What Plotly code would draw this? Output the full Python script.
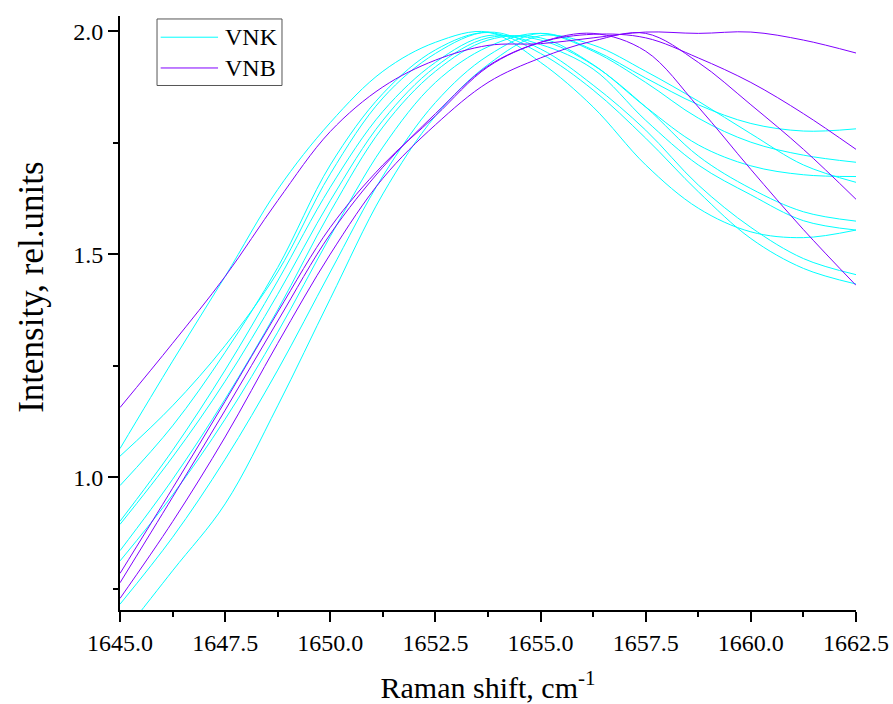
import plotly.graph_objects as go

# Raman shift grid (cm-1) shared by all spectra
shift = [1645.0, 1646.25, 1647.5, 1648.75, 1650.0, 1651.25, 1652.5, 1653.75,
         1655.0, 1656.25, 1657.5, 1658.75, 1660.0, 1661.25, 1662.5]

# VNK spectra (normalised intensity)
vnk_1 = [1.064, 1.26, 1.45, 1.645, 1.795, 1.91, 1.975, 1.998, 1.93, 1.83, 1.70, 1.603, 1.550, 1.537, 1.554]
vnk_2 = [1.047, 1.16, 1.295, 1.46, 1.68, 1.85, 1.95, 1.998, 1.96, 1.879, 1.778, 1.655, 1.560, 1.490, 1.454]
vnk_3 = [0.981, 1.115, 1.28, 1.47, 1.70, 1.86, 1.958, 1.997, 1.95, 1.868, 1.760, 1.640, 1.535, 1.468, 1.433]
vnk_4 = [0.901, 1.06, 1.24, 1.44, 1.65, 1.82, 1.93, 1.99, 1.97, 1.915, 1.80, 1.70, 1.633, 1.575, 1.554]
vnk_5 = [0.894, 1.045, 1.215, 1.41, 1.62, 1.80, 1.92, 1.985, 1.98, 1.924, 1.83, 1.72, 1.647, 1.595, 1.574]
vnk_6 = [0.835, 0.995, 1.175, 1.375, 1.595, 1.785, 1.91, 1.98, 1.985, 1.925, 1.83, 1.745, 1.698, 1.678, 1.674]
vnk_7 = [0.812, 0.96, 1.13, 1.325, 1.54, 1.74, 1.885, 1.965, 1.995, 1.955, 1.885, 1.805, 1.751, 1.722, 1.706]
vnk_8 = [0.715, 0.865, 1.04, 1.24, 1.46, 1.675, 1.84, 1.945, 1.995, 1.958, 1.895, 1.835, 1.793, 1.776, 1.781]
vnk_9 = [0.64, 0.79, 0.94, 1.16, 1.40, 1.635, 1.81, 1.925, 1.99, 1.969, 1.91, 1.843, 1.770, 1.700, 1.661]

# VNB spectra (normalised intensity)
vnb_1 = [1.156, 1.30, 1.45, 1.62, 1.775, 1.875, 1.935, 1.968, 1.972, 1.985, 1.998, 1.995, 1.998, 1.98, 1.951]
vnb_2 = [0.784, 0.975, 1.17, 1.37, 1.56, 1.70, 1.81, 1.92, 1.975, 1.995, 1.955, 1.83, 1.69, 1.555, 1.430]
vnb_3 = [0.763, 0.955, 1.15, 1.35, 1.545, 1.695, 1.815, 1.922, 1.975, 1.993, 1.985, 1.94, 1.885, 1.815, 1.735]
vnb_4 = [0.728, 0.90, 1.09, 1.30, 1.50, 1.67, 1.79, 1.885, 1.94, 1.978, 1.995, 1.93, 1.835, 1.735, 1.623]

vnk_series = [vnk_1, vnk_2, vnk_3, vnk_4, vnk_5, vnk_6, vnk_7, vnk_8, vnk_9]
vnb_series = [vnb_1, vnb_2, vnb_3, vnb_4]

x_ticks = [1645.0, 1647.5, 1650.0, 1652.5, 1655.0, 1657.5, 1660.0, 1662.5]
y_ticks = [1.0, 1.5, 2.0]

CYAN = "#00FFFF"
VIOLET = "#8000FF"
FONT = "'Liberation Serif', 'Times New Roman', Times, serif"

fig = go.Figure()
for ys in vnk_series:
    fig.add_trace(go.Scatter(x=shift, y=ys, mode="lines", name="VNK",
                             line=dict(color=CYAN, width=1, shape="spline"),
                             showlegend=False))
for ys in vnb_series:
    fig.add_trace(go.Scatter(x=shift, y=ys, mode="lines", name="VNB",
                             line=dict(color=VIOLET, width=1, shape="spline"),
                             showlegend=False))

# Legend box drawn in paper coordinates
shapes = [
    dict(type="rect", xref="paper", yref="paper", x0=0.0503, x1=0.2201, y0=0.883, y1=0.995,
         line=dict(color="#555555", width=1), fillcolor="white"),
    dict(type="line", xref="paper", yref="paper", x0=0.0553, x1=0.1332, y0=0.9643, y1=0.9643,
         line=dict(color=CYAN, width=1)),
    dict(type="line", xref="paper", yref="paper", x0=0.0553, x1=0.1332, y0=0.9125, y1=0.9125,
         line=dict(color=VIOLET, width=1)),
]
annotations = [
    dict(xref="paper", yref="paper", x=0.1400, y=0.9643, text="VNK", showarrow=False,
         xanchor="left", yanchor="middle", font=dict(family=FONT, size=24, color="black")),
    dict(xref="paper", yref="paper", x=0.1400, y=0.9125, text="VNB", showarrow=False,
         xanchor="left", yanchor="middle", font=dict(family=FONT, size=24, color="black")),
    # vertical axis title
    dict(xref="paper", yref="paper", x=-0.1196, y=0.544, text="Intensity, rel.units",
         showarrow=False, textangle=-90, xanchor="center", yanchor="middle",
         font=dict(family=FONT, size=35, color="black")),
]

fig.update_layout(
    width=893, height=704,
    margin=dict(l=120, r=37, t=16, b=94, autoexpand=False),
    paper_bgcolor="white", plot_bgcolor="white",
    font=dict(family=FONT, size=24, color="black"),
    shapes=shapes, annotations=annotations,
    showlegend=False,
)
fig.update_xaxes(
    range=[1645.0, 1662.5], tickvals=x_ticks, ticktext=[f"{v:.1f}" for v in x_ticks],
    ticks="outside", ticklen=10, tickwidth=2, tickcolor="black",
    showline=True, linewidth=2, linecolor="black", mirror=False,
    showgrid=False, zeroline=False, automargin=False,
    minor=dict(dtick=1.25, tick0=1645.0, ticks="outside", ticklen=5, tickwidth=2, tickcolor="black", showgrid=False),
    tickfont=dict(family=FONT, size=24),
    title=dict(text="Raman shift, cm<sup>-1</sup>", font=dict(family=FONT, size=30), standoff=22),
)
fig.update_yaxes(
    range=[0.702, 2.034], tickvals=y_ticks, ticktext=[f"{v:.1f}" for v in y_ticks],
    ticks="outside", ticklen=10, tickwidth=2, tickcolor="black",
    showline=True, linewidth=2, linecolor="black", mirror=False,
    showgrid=False, zeroline=False, automargin=False,
    minor=dict(dtick=0.25, tick0=0.75, ticks="outside", ticklen=5, tickwidth=2, tickcolor="black", showgrid=False),
    tickfont=dict(family=FONT, size=24),
)

fig.write_html("out.html")
